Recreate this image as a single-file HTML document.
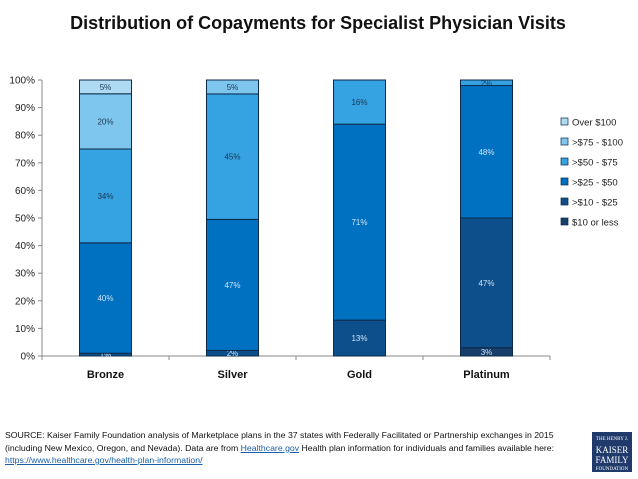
<!DOCTYPE html>
<html><head><meta charset="utf-8"><style>
body{margin:0;background:#fff;font-family:"Liberation Sans",sans-serif}
#wrap{position:relative;width:638px;height:479px;overflow:hidden}
.src{position:absolute;left:5px;top:429px;font-size:8.7px;line-height:12.5px;color:#111;width:580px}
.src a{color:#1a5ea8;text-decoration:underline}
.logo{position:absolute;left:592px;top:432px;width:40px;height:40px;background:#1f3a6b;color:#fff;font-family:"Liberation Serif",serif;text-align:center;font-size:9px;line-height:10px}
</style></head><body>
<div id="wrap">
<svg id="chart" width="638" height="420" style="position:absolute;left:0;top:0">
<text x="318" y="29" text-anchor="middle" font-size="18" font-weight="bold" fill="#111">Distribution of Copayments for Specialist Physician Visits</text>
</svg>
<div class="src">SOURCE: Kaiser Family Foundation analysis of Marketplace plans in the 37 states with Federally Facilitated or Partnership exchanges in 2015 (including New Mexico, Oregon, and Nevada). Data are from <a>Healthcare.gov</a> Health plan information for individuals and families available here: <a>https://www.healthcare.gov/health-plan-information/</a></div>
<div class="logo"><div style="font-size:5px;margin-top:3px">THE HENRY J.</div>KAISER<br>FAMILY<div style="font-size:5px">FOUNDATION</div></div>
</div>
<script>
const categories=["Bronze","Silver","Gold","Platinum"];
const seriesNames=["$10 or less",">$10 - $25",">$25 - $50",">$50 - $75",">$75 - $100","Over $100"];
const s10OrLess=[0,0,0,3];
const s10to25=[1,2,13,47];
const s25to50=[40,47,71,48];
const s50to75=[34,45,16,2];
const s75to100=[20,5,0,0];
const sOver100=[5,0,0,0];
const yTicks=[0,10,20,30,40,50,60,70,80,90,100];
const series=[s10OrLess,s10to25,s25to50,s50to75,s75to100,sOver100];
const colors=["#173d6b","#0d4f8a","#0070c0","#35a2e2","#7fc6ee","#aedaf4"];
const textCols=["#cfe3f5","#cfe3f5","#cfe3f5","#1b3550","#1b3550","#1b3550"];
const NS="http://www.w3.org/2000/svg";
const svg=document.getElementById('chart');
const x0=42,x1=550,yTop=80,yBot=356,bw=52;
const y=v=>yBot-(v/100)*(yBot-yTop);
const band=(x1-x0)/categories.length;
const xc=i=>x0+band*(i+0.5);
function mk(t,a){const e=document.createElementNS(NS,t);for(const k in a)e.setAttribute(k,a[k]);svg.appendChild(e);return e;}
let ax=mk('line',{x1:x0,y1:yTop,x2:x0,y2:yBot,stroke:'#888'});


let xa=mk('line',{x1:x0,y1:yBot,x2:x1,y2:yBot,stroke:'#888'});


yTicks.forEach(t=>{
 mk('line',{x1:x0-4,y1:y(t),x2:x0,y2:y(t),stroke:'#888'});
 const tx=mk('text',{x:x0-7,y:y(t)+3.5,'text-anchor':'end','font-size':10,fill:'#222'});
 tx.textContent=t+'%';
 
 
});
for(let i=0;i<=categories.length;i++)mk('line',{x1:x0+band*i,y1:yBot,x2:x0+band*i,y2:yBot+4,stroke:'#888'});
categories.forEach((c,i)=>{
 let total=0;series.forEach(s=>total+=s[i]);
 const sc=100/total;
 let cum=0;
 series.forEach((s,k)=>{
  const v=s[i];if(!v)return;
  const vs=v*sc;
  const r=mk('rect',{x:xc(i)-bw/2,y:y(cum+vs),width:bw,height:y(cum)-y(cum+vs),fill:colors[k],stroke:'#0d2a4a','stroke-width':1});
  
  
  const l=mk('text',{x:xc(i),y:(y(cum)+y(cum+vs))/2+3,'text-anchor':'middle','font-size':8,fill:textCols[k]});
  l.textContent=v+'%';
  
  
  cum+=vs;
 });
 const t=mk('text',{x:xc(i),y:yBot+22,'text-anchor':'middle','font-size':11,'font-weight':'bold',fill:'#111'});
 t.textContent=c;
 
 
});
for(let k=5;k>=0;k--){
 const ly=122+(5-k)*20;
 const r=mk('rect',{x:561,y:ly-4,width:7,height:7,fill:colors[k],stroke:'#0d2a4a','stroke-width':0.7});
 
 
 const t=mk('text',{x:572,y:ly+3.5,'font-size':9.5,fill:'#222'});
 t.textContent=seriesNames[k];
 
 
}
</script>
</body></html>
